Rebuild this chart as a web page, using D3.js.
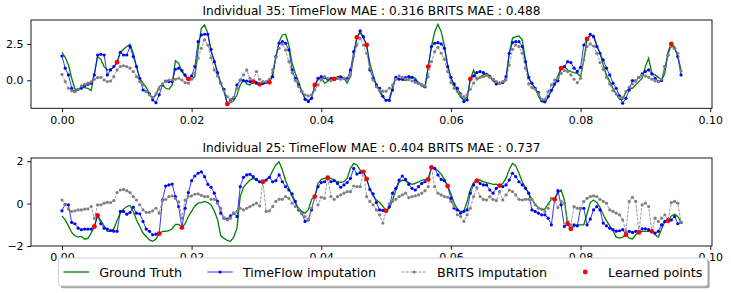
<!DOCTYPE html>
<html>
<head>
<meta charset="utf-8">
<script src="https://cdn.jsdelivr.net/npm/d3@7"></script>
<style>
  body { margin: 0; background: #fff; }
  svg { display: block; font-family: "DejaVu Sans", sans-serif; }
</style>
</head>
<body>
<div id="chart"></div>
<script>
// sampling grid: 192 hourly steps, 0.0005 apart
const times = d3.range(192).map(i => i * 0.0005);

// Individual 35
const gt35 = [1.93,1.58,1.05,0.14,-0.6,-0.67,-0.44,-0.5,-0.55,-0.71,0.48,1.63,1.44,0.94,0.71,0.76,0.9,1.24,1.9,2.13,
  2.32,2.48,1.86,0.94,0.14,-0.2,-0.48,-0.94,-1.24,-1.0,-0.44,-0.32,-0.55,-0.62,-0.32,1.35,1.17,0.6,0.25,0.1,
  0.07,0.25,2.09,3.58,3.81,3.23,1.97,1.35,0.55,-0.25,-0.75,-1.63,-1.55,-1.4,-1.0,-0.32,0.02,-0.25,-0.32,-0.09,
  -0.09,-0.28,-0.28,-0.16,-0.14,0.37,1.63,2.66,3.12,3.17,2.43,1.17,0.48,-0.09,-0.78,-1.24,-1.4,-1.24,-0.32,0.02,
  0.2,-0.2,-0.09,0.2,0.09,0.25,0.3,0.14,-0.2,0.25,1.63,2.96,3.28,2.89,2.43,1.17,0.37,-0.32,-0.78,-1.15,
  -1.4,-1.3,-0.44,0.2,0.14,0.02,-0.02,0.07,0.25,0.14,-0.2,-0.39,-0.5,0.94,2.32,3.35,3.85,3.35,2.36,1.05,
  0.14,-0.39,-0.78,-1.17,-1.35,-1.17,0.09,0.71,0.02,0.2,0.37,0.48,0.3,-0.05,-0.2,-0.16,-0.16,0.02,1.86,2.89,
  3.0,3.05,2.78,1.4,0.14,-0.25,-0.55,-1.08,-1.47,-1.54,-1.17,-0.72,-0.3,0.3,0.83,0.94,0.71,0.6,0.53,0.48,
  0.25,1.4,2.85,3.05,3.12,2.43,1.86,1.05,0.37,-0.09,-0.55,-0.94,-1.31,-1.31,-0.78,-0.55,-0.55,-0.32,-0.09,0.14,
  0.94,1.51,0.48,0.37,0.2,0.02,0.48,1.97,2.5,2.3,1.63,0.71];
const tf35 = [1.67,0.83,0.37,-0.55,-0.78,-0.62,-0.55,-0.37,-0.28,-0.2,0.37,1.74,1.79,1.74,0.37,0.71,0.94,1.24,1.93,1.74,
  1.74,2.32,1.63,0.94,0.14,-0.67,-0.78,-0.94,-1.35,-1.54,-1.0,-0.32,-0.05,-0.09,-0.09,0.76,0.83,0.67,0.37,0.1,
  0.3,0.94,2.66,3.12,3.17,3.17,2.13,1.28,0.53,-0.2,-0.62,-1.63,-1.35,-1.24,-0.32,0.02,-0.02,-0.05,-0.09,-0.09,
  -0.2,-0.28,-0.2,-0.14,-0.14,0.25,1.63,2.55,2.66,2.55,2.09,0.71,0.14,-0.32,-0.78,-1.31,-1.47,-1.24,-0.32,0.14,
  0.25,0.18,0.07,0.09,0.09,0.14,0.2,0.14,0.11,0.71,1.97,2.96,3.4,3.0,2.43,0.71,0.14,-0.32,-0.55,-1.1,
  -1.38,-1.38,-0.67,0.2,0.07,0.07,0.18,0.25,0.2,-0.02,-0.2,-0.32,-0.44,0.94,2.32,2.55,2.59,2.5,2.2,0.94,
  0.2,-0.25,-0.55,-0.94,-1.47,-1.35,0.09,0.3,0.53,0.6,0.53,0.37,0.25,0.07,-0.25,-0.2,-0.16,0.25,1.86,2.59,
  2.66,2.66,2.32,1.28,0.2,-0.2,-0.55,-0.85,-1.4,-1.47,-1.12,-0.69,-0.26,-0.04,0.83,0.94,1.28,1.22,0.83,0.6,
  0.89,2.43,2.85,3.17,3.0,2.32,1.86,1.4,0.83,0.37,-0.2,-0.55,-1.08,-1.58,-1.24,-0.67,-0.02,-0.05,0.2,0.44,
  0.6,0.71,0.44,0.14,-0.09,-0.02,0.94,1.74,2.5,2.2,1.63,0.37];
const br35 = [0.41,-0.09,-0.55,-0.73,-0.78,-0.62,-0.39,-0.28,-0.2,-0.11,0.07,0.18,0.2,0.02,-0.09,-0.05,0.25,0.71,0.94,1.0,
  0.94,0.83,0.6,0.25,-0.09,-0.32,-0.78,-1.0,-1.17,-0.94,-0.6,-0.25,-0.09,0.02,0.02,0.07,0.14,0.02,-0.16,-0.2,
  0.07,0.48,1.51,2.2,2.78,2.43,1.55,0.71,0.3,-0.2,-0.73,-1.12,-1.31,-1.17,-0.55,0.02,0.37,0.71,0.14,-0.09,
  0.6,0.07,-0.09,-0.09,0.07,0.71,1.58,2.2,2.5,2.09,1.28,0.53,-0.02,-0.44,-0.78,-1.0,-1.08,-1.0,-0.67,-0.32,
  0.02,0.25,0.14,-0.02,0.07,0.14,0.07,0.14,0.02,0.37,1.63,2.43,2.89,2.43,1.86,0.83,0.02,-0.44,-0.67,-0.75,
  -0.75,-0.55,-0.32,0.07,0.3,0.2,0.09,0.05,-0.05,-0.14,-0.23,-0.34,-0.39,0.25,1.28,1.97,2.27,1.86,1.44,0.6,
  -0.16,-0.55,-0.78,-0.99,-1.12,-1.0,-0.62,-0.2,0.11,0.2,0.25,0.34,0.2,0.07,-0.09,-0.2,-0.09,0.02,1.05,2.13,
  2.43,2.32,1.86,0.83,-0.25,-0.5,-0.62,-0.94,-1.31,-1.31,-0.78,-0.32,0.02,0.14,0.48,0.67,0.6,0.37,0.07,-0.16,
  0.14,1.4,2.32,2.5,2.36,1.86,1.22,0.76,0.2,-0.25,-0.71,-0.94,-1.19,-1.17,-0.78,-0.48,-0.25,-0.02,0.2,0.34,
  0.3,0.2,0.07,-0.05,-0.09,0.07,0.94,1.74,2.32,2.2,1.86,0.65];
const learned35 = [17,39,51,59,61,64,78,84,91,94,113,126,154,162,188];

// Individual 25
const gt25 = [-0.58,-0.77,-1.05,-1.36,-1.52,-1.58,-1.55,-1.68,-1.64,-1.39,-1.08,-0.56,-0.8,-1.05,-1.31,-1.31,-1.19,-0.8,-0.45,-0.26,
  -0.14,-0.09,-0.37,-0.77,-1.08,-1.39,-1.55,-1.71,-1.78,-1.67,-1.42,-1.31,-1.31,-1.28,-1.19,-0.98,-0.98,-1.13,-0.95,-0.61,
  -0.37,-0.11,0.02,0.05,0.1,0.05,-0.06,-0.35,-0.75,-1.52,-1.64,-1.74,-1.78,-1.58,-1.16,0.33,0.77,0.95,1.11,1.19,
  1.11,1.03,1.03,1.11,1.24,1.55,1.82,1.97,1.58,1.08,0.72,0.33,0.02,-0.22,-0.37,-0.45,-0.3,0.2,0.33,0.95,
  1.14,1.19,1.22,1.19,1.11,1.03,1.0,1.03,1.19,1.66,1.9,1.82,1.58,1.5,1.16,0.67,0.36,0.17,0.05,-0.12,
  -0.34,-0.22,0.17,0.61,1.0,1.11,1.07,0.99,0.91,0.95,1.02,1.1,1.14,1.14,1.71,1.66,1.55,1.39,1.14,0.83,
  0.46,0.02,-0.26,-0.37,-0.37,0.1,0.67,1.0,1.08,1.11,1.03,0.99,0.95,0.91,0.92,0.85,0.95,1.19,1.61,1.89,
  1.78,1.43,1.03,0.75,0.49,0.2,-0.03,-0.18,-0.3,-0.25,-0.01,0.2,0.2,0.5,0.64,0.17,-0.95,-1.19,-1.08,-1.0,
  -1.0,-1.0,-0.48,0.05,0.17,0.05,-0.17,-0.53,-0.8,-1.05,-1.27,-1.58,-1.63,-1.58,-1.47,-1.63,-1.67,-1.47,-1.36,-1.31,
  -1.31,-1.31,-1.31,-1.47,-1.58,-1.2,-0.86,-0.81,-0.58,-0.5,-0.61,-0.89];
const tf25 = [-0.34,-0.03,-0.06,-0.89,-0.95,-1.16,-1.23,-1.2,-1.2,-1.2,-1.08,-0.56,-0.95,-1.16,-1.2,-1.27,-1.3,-1.31,-0.37,-0.37,
  -0.5,-0.42,-0.17,-0.45,-0.48,-0.84,-1.2,-1.31,-1.47,-1.44,-1.42,0.17,0.83,0.88,0.92,0.33,-0.14,-1.13,-0.22,0.52,
  1.08,1.3,1.43,1.5,1.27,0.91,0.77,0.49,0.1,-0.45,-0.69,-0.73,-0.58,-0.45,-0.61,0.8,1.24,1.35,1.38,1.27,
  1.14,1.03,1.03,1.11,1.24,1.03,1.08,1.35,1.03,0.8,0.64,0.46,0.1,-0.3,-0.45,-0.84,-0.77,-0.3,0.33,0.8,
  0.99,1.03,1.22,1.03,1.08,0.95,0.77,0.88,0.99,1.19,1.66,1.39,1.46,1.5,1.16,0.67,0.46,0.05,-0.3,-0.32,
  -0.34,-0.14,0.49,0.72,1.11,1.3,1.14,0.91,0.72,0.64,0.8,0.95,1.03,1.14,1.71,1.66,1.35,1.14,1.08,0.83,
  0.25,-0.22,-0.3,-0.45,-0.37,-0.3,0.49,0.88,1.08,0.95,0.88,0.88,0.64,0.49,0.72,0.85,0.8,0.88,1.11,1.43,
  1.27,1.03,0.88,0.72,0.49,-0.3,-0.37,-0.45,-0.53,-0.53,-0.69,-1.0,0.2,0.61,-0.06,-1.08,-0.95,-1.19,-1.0,-1.05,
  -0.22,-0.22,-1.0,-0.73,-0.3,-0.14,-0.3,-0.92,-1.05,-1.16,-1.23,-1.3,-1.28,-1.23,-1.47,-1.31,-1.36,-1.31,-1.36,-1.19,
  -1.19,-1.23,-1.31,-1.39,-1.31,-1.0,-0.84,-0.81,-0.77,-0.61,-0.95,-0.89];
const br25 = [0.17,-0.06,-0.26,-0.37,-0.34,-0.3,-0.3,-0.26,-0.25,-0.14,-0.7,-0.06,-0.06,0.02,0.06,0.05,0.14,0.52,0.64,0.67,
  0.61,0.52,0.33,0.17,-0.06,-0.3,-0.41,-0.41,-0.34,-0.22,-0.45,0.14,0.2,0.33,0.36,0.24,0.08,-0.69,0.17,0.33,
  0.36,0.44,0.46,0.39,0.33,0.33,0.2,0.2,0.02,-0.22,-0.69,-0.77,-0.69,-0.45,-0.37,-0.22,-0.3,-0.22,-0.14,-0.06,
  0.02,-0.11,1.03,-0.37,-0.34,-0.14,0.1,0.2,0.2,0.33,0.25,0.02,-0.14,-0.26,-0.45,-0.61,-0.77,-0.22,0.33,-0.06,
  0.3,0.25,1.22,0.33,0.2,0.33,0.41,0.49,0.56,0.56,0.83,0.8,0.8,1.5,0.33,0.1,-0.06,-0.3,-0.53,-0.92,
  -0.34,-0.01,0.1,0.2,0.33,0.41,0.49,0.28,0.33,0.36,0.41,0.49,0.61,0.8,1.71,0.8,0.49,0.41,0.33,0.3,
  0.1,-0.14,-0.53,-0.61,-0.84,-0.53,-0.22,0.33,0.75,0.33,0.2,0.17,0.33,0.2,0.14,0.56,0.17,0.41,0.64,0.56,
  0.41,0.2,0.17,0.2,0.2,0.2,-0.06,-0.22,-0.26,-0.37,-0.22,0.25,0.17,-0.19,0.1,0.02,-0.84,-1.0,-0.14,-0.22,
  -0.22,0.1,0.25,0.33,0.36,0.33,0.2,0.1,0.02,-0.3,-0.37,-0.45,-0.53,-0.77,-1.31,0.1,0.3,0.1,-1.31,-0.06,
  0.02,-0.14,-1.31,-0.69,-0.84,-0.69,-0.53,-0.77,0.05,0.1,0.02,-0.89];
const learned25 = [10,11,30,37,62,78,82,93,94,100,113,114,119,128,135,152,156,157,174,178,182,187];

const titles = [
  'Individual 35: TimeFlow MAE : 0.316 BRITS MAE : 0.488',
  'Individual 25: TimeFlow MAE : 0.404 BRITS MAE : 0.737'
];
const xTicks = [0, 0.02, 0.04, 0.06, 0.08, 0.10];
const yTicks35 = [0, 2.5];
const yTicks25 = [-2, 0, 2];
const legendLabels = ['Ground Truth', 'TimeFlow imputation', 'BRITS imputation', 'Learned points'];

const width = 731;
const height = 293;
const left = 31, right = 712;

const svg = d3.select('#chart')
  .append('svg')
  .attr('width', width)
  .attr('height', height);

svg.append('rect').attr('width', width).attr('height', height).style('fill', '#fff');

const x = d3.scaleLinear()
  .domain([-0.004775, 0.100275])
  .range([left, right]);

const panels = [
  { title: titles[0], gt: gt35, tf: tf35, br: br35, learned: learned35,
    yDomain: [-1.93, 4.15], yTicks: yTicks35, yFormat: d3.format('.1f'), top: 20, bottom: 108.3, titleY: 14.5 },
  { title: titles[1], gt: gt25, tf: tf25, br: br25, learned: learned25,
    yDomain: [-2.0, 2.15], yTicks: yTicks25, yFormat: d3.format('d'), top: 158, bottom: 246, titleY: 152 }
];

panels.forEach(p => {
  const y = d3.scaleLinear().domain(p.yDomain).range([p.bottom, p.top]);
  const g = svg.append('g');

  const line = d3.line()
    .x((d, i) => x(times[i]))
    .y(d => y(d));

  g.append('path')
    .datum(p.gt)
    .attr('d', line)
    .style('fill', 'none')
    .style('stroke', 'green')
    .style('stroke-width', 1.3);

  g.append('path')
    .datum(p.tf)
    .attr('d', line)
    .style('fill', 'none')
    .style('stroke', 'blue')
    .style('stroke-width', 0.8);

  g.selectAll('.tf')
    .data(p.tf)
    .enter().append('circle')
    .attr('cx', (d, i) => x(times[i]))
    .attr('cy', d => y(d))
    .attr('r', 1.6)
    .style('fill', 'blue');

  g.append('path')
    .datum(p.br)
    .attr('d', line)
    .style('fill', 'none')
    .style('stroke', 'grey')
    .style('stroke-width', 0.8)
    .style('stroke-dasharray', '3,1.3');

  g.selectAll('.br')
    .data(p.br)
    .enter().append('circle')
    .attr('cx', (d, i) => x(times[i]))
    .attr('cy', d => y(d))
    .attr('r', 1.6)
    .style('fill', 'grey');

  g.selectAll('.learned')
    .data(p.learned)
    .enter().append('circle')
    .attr('cx', i => x(times[i]))
    .attr('cy', i => y(p.gt[i]))
    .attr('r', 2.4)
    .style('fill', 'red');

  // frame
  svg.append('rect')
    .attr('x', left)
    .attr('y', p.top)
    .attr('width', right - left)
    .attr('height', p.bottom - p.top)
    .style('fill', 'none')
    .style('stroke', '#000')
    .style('stroke-width', 0.9);

  const xAxis = svg.append('g')
    .attr('transform', `translate(0,${p.bottom})`)
    .call(d3.axisBottom(x).tickValues(xTicks).tickFormat(d3.format('.2f')).tickSize(3.9).tickPadding(3.5));
  const yAxis = svg.append('g')
    .attr('transform', `translate(${left},0)`)
    .call(d3.axisLeft(y).tickValues(p.yTicks).tickFormat(p.yFormat).tickSize(3.9).tickPadding(3.5));

  [xAxis, yAxis].forEach(a => {
    a.select('.domain').remove();
    a.selectAll('text').style('font-size', '11px').style('font-family', '"DejaVu Sans", sans-serif').style('fill', '#000');
    a.selectAll('line').style('stroke', '#000').style('stroke-width', 0.9);
  });

  svg.append('text')
    .attr('x', (left + right) / 2)
    .attr('y', p.titleY)
    .attr('text-anchor', 'middle')
    .style('font-size', '12.2px')
    .text(p.title);
});

// legend, laid out like a 4-column matplotlib legend
const fs = 12.7;
const lg = svg.append('g');
const texts = legendLabels.map(l => lg.append('text').style('font-size', fs + 'px').text(l));
const widths = texts.map(t => t.node().getComputedTextLength());
const handle = 2 * fs, hpad = 0.8 * fs, colsp = 2 * fs, bpad = 0.4 * fs;
const total = 2 * bpad + d3.sum(widths) + 4 * (handle + hpad) + 3 * colsp;
const boxL = 58.5;
const boxT = 258, boxH = 28;
const ty = boxT + boxH / 2;

lg.insert('rect', ':first-child')
  .attr('x', boxL).attr('y', boxT).attr('width', total).attr('height', boxH)
  .attr('rx', 2.5)
  .style('fill', '#fff')
  .style('stroke', '#ccc')
  .style('stroke-width', 0.9);
lg.insert('rect', ':first-child')
  .attr('x', boxL + 2.2).attr('y', boxT + 2.2).attr('width', total).attr('height', boxH)
  .attr('rx', 2.5)
  .style('fill', '#000')
  .style('opacity', 0.35);

let cx = boxL + bpad;
legendLabels.forEach((l, k) => {
  const hx0 = cx, hx1 = cx + handle, hm = cx + handle / 2;
  if (k === 0) {
    lg.append('line').attr('x1', hx0).attr('x2', hx1).attr('y1', ty).attr('y2', ty)
      .style('stroke', 'green').style('stroke-width', 1.3);
  } else if (k === 1) {
    lg.append('line').attr('x1', hx0).attr('x2', hx1).attr('y1', ty).attr('y2', ty)
      .style('stroke', 'blue').style('stroke-width', 0.8);
    lg.append('circle').attr('cx', hm).attr('cy', ty).attr('r', 1.6).style('fill', 'blue');
  } else if (k === 2) {
    lg.append('line').attr('x1', hx0).attr('x2', hx1).attr('y1', ty).attr('y2', ty)
      .style('stroke', 'grey').style('stroke-width', 0.8).style('stroke-dasharray', '3,1.3');
    lg.append('circle').attr('cx', hm).attr('cy', ty).attr('r', 1.6).style('fill', 'grey');
  } else {
    lg.append('circle').attr('cx', hm).attr('cy', ty).attr('r', 2.4).style('fill', 'red');
  }
  texts[k].attr('x', hx1 + hpad).attr('y', ty + 4.5);
  cx = hx1 + hpad + widths[k] + colsp;
});
</script>
</body>
</html>
